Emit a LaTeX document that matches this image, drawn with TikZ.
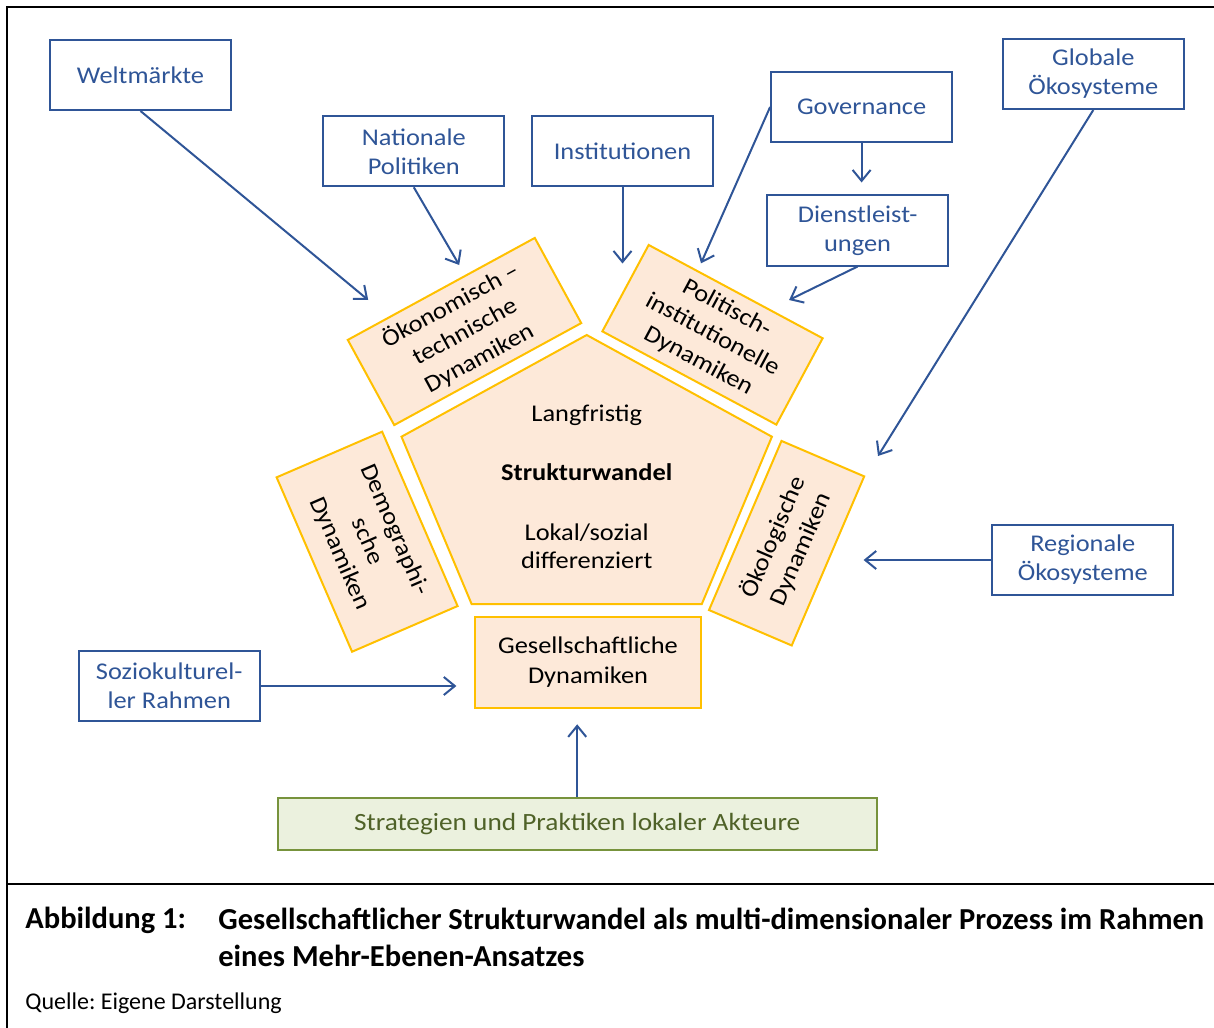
\documentclass[tikz,border=0pt]{standalone}
\usepackage{fontspec}
\setmainfont{Carlito}
\newfontfamily\diafont[FakeStretch=1.1]{Carlito}
\usetikzlibrary{arrows.meta}

\definecolor{rahmenblau}{RGB}{47,85,151}
\definecolor{pfirsich}{RGB}{253,233,217}
\definecolor{gold}{RGB}{255,192,0}
\definecolor{gruenfill}{RGB}{235,241,222}
\definecolor{gruenrand}{RGB}{119,147,60}
\definecolor{gruentext}{RGB}{79,98,40}

\tikzset{
  ebene/.style={draw=rahmenblau, line width=1pt, text=rahmenblau, align=center,
    minimum width=90.5pt, minimum height=35pt, inner sep=0pt,
    font=\diafont\fontsize{12}{14.5}\selectfont},
  dynamik/.style={draw=gold, fill=pfirsich, line width=1pt, align=center,
    inner sep=0pt, font=\diafont\fontsize{12}{15}\selectfont},
  einfluss/.style={draw=rahmenblau, line width=1pt,
    -{Straight Barb[length=5.5pt,width=9pt,line width=1pt]}}
}

\begin{document}
\frenchspacing
\begin{tikzpicture}[x=0.5pt, y=-0.5pt]
    \useasboundingbox (0,0) rectangle (1214,1027);

    % --- Rahmen ---
    \draw[line width=1.3pt] (7,1040) -- (7,7) -- (1230,7);
    \draw[line width=1.3pt] (7,884) -- (1230,884);

    % --- Ebenen (blaue Kaesten) ---
    \node[ebene] (welt) at (140.5,75) {Weltmärkte};
    \node[ebene] (national) at (413.8,151.3) {Nationale\\Politiken};
    \node[ebene] (instit) at (622.5,151.3) {Institutionen};
    \node[ebene] (gov) at (861.6,107) {Governance};
    \node[ebene] (dienst) at (857.6,230.5) {Dienstleist-\\ungen};
    \node[ebene] (global) at (1093.3,74) {Globale\\Ökosysteme};
    \node[ebene] (regional) at (1082.8,560) {Regionale\\Ökosysteme};
    \node[ebene] (sozio) at (169.2,686) {Soziokulturel-\\ler Rahmen};

    % --- Kern: Strukturwandel ---
    \draw[gold, fill=pfirsich, line width=1pt] (586.7,335) -- (771.9,436.7)
        -- (701.8,604) -- (471.6,604) -- (401.5,436.7) -- cycle;
    \node[align=center, inner sep=0pt, font=\diafont\fontsize{12}{14}\selectfont]
        (kern) at (586.7,487) {Langfristig\\[15.5pt]\textbf{Strukturwandel}\\[16pt]Lokal/sozial\\differenziert};

    % --- Dynamiken ---
    \node[dynamik, minimum width=106.5pt, minimum height=48.5pt, rotate=28.6]
        (oekon) at (464.5,331.5) {Ökonomisch –\\technische\\Dynamiken};
    \node[dynamik, minimum width=98.7pt, minimum height=49pt, rotate=-28.2]
        (polit) at (712.5,334.8) {Politisch-\\institutionelle\\Dynamiken};
    \node[dynamik, minimum width=95pt, minimum height=57.5pt, rotate=-66.6]
        (demo) at (367.1,541.7) {Demographi-\\sche\\Dynamiken};
    \node[dynamik, minimum width=92pt, minimum height=45pt, rotate=66.8]
        (oekol) at (786.6,543.2) {Ökologische\\Dynamiken};
    \node[dynamik, minimum width=113pt, minimum height=45.8pt]
        (gesell) at (588,662.5) {Gesellschaftliche\\Dynamiken};

    % --- Akteure ---
    \node[draw=gruenrand, fill=gruenfill, line width=1pt, text=gruentext,
        minimum width=299.5pt, minimum height=26pt, inner sep=0pt,
        font=\diafont\fontsize{12.4}{14.5}\selectfont] (akteure) at (577.2,823.8)
        {Strategien und Praktiken lokaler Akteure};

    % --- Pfeilspitzen ---
    \coordinate (zWelt) at (368.2,300);
    \coordinate (zNational) at (459.2,265);
    \coordinate (zInstit) at (622.5,263.5);
    \coordinate (zGov) at (701,263.3);
    \coordinate (zDienst) at (789.1,300);
    \coordinate (zGlobal) at (878,456);
    \coordinate (zRegional) at (863.6,560);

    % --- Einfluesse ---
    \draw[einfluss] (welt.south) -- (zWelt);
    \draw[einfluss] (national.south) -- (zNational);
    \draw[einfluss] (instit.south) -- (zInstit);
    \draw[einfluss] (gov.west) -- (zGov);
    \draw[einfluss, shorten >=6pt] (gov.south) -- (gov.south |- dienst.north);
    \draw[einfluss] (dienst.south) -- (zDienst);
    \draw[einfluss] (global.south) -- (zGlobal);
    \draw[einfluss] (regional.west) -- (zRegional);
    \draw[einfluss, shorten >=8.8pt] (sozio.east) -- (gesell.west |- sozio.east);
    \draw[einfluss, shorten >=7.5pt] (akteure.north) -- (akteure.north |- gesell.south);

    % --- Bildunterschrift ---
    \node[anchor=base west, inner sep=0pt, font=\fontsize{15.25}{18.5}\selectfont\bfseries]
        (abb) at (25,928) {Abbildung 1:};
    \node[anchor=north west, inner sep=0pt, align=left,
        font=\fontsize{15.25}{18.5}\selectfont\bfseries] (titel) at (218,908)
        {Gesellschaftlicher Strukturwandel als multi-dimensionaler Prozess im Rahmen\\eines Mehr-Ebenen-Ansatzes};
    \node[anchor=base west, inner sep=0pt, font=\fontsize{12}{14}\selectfont]
        (quelle) at (25,1009) {Quelle: Eigene Darstellung};

\end{tikzpicture}
\end{document}
